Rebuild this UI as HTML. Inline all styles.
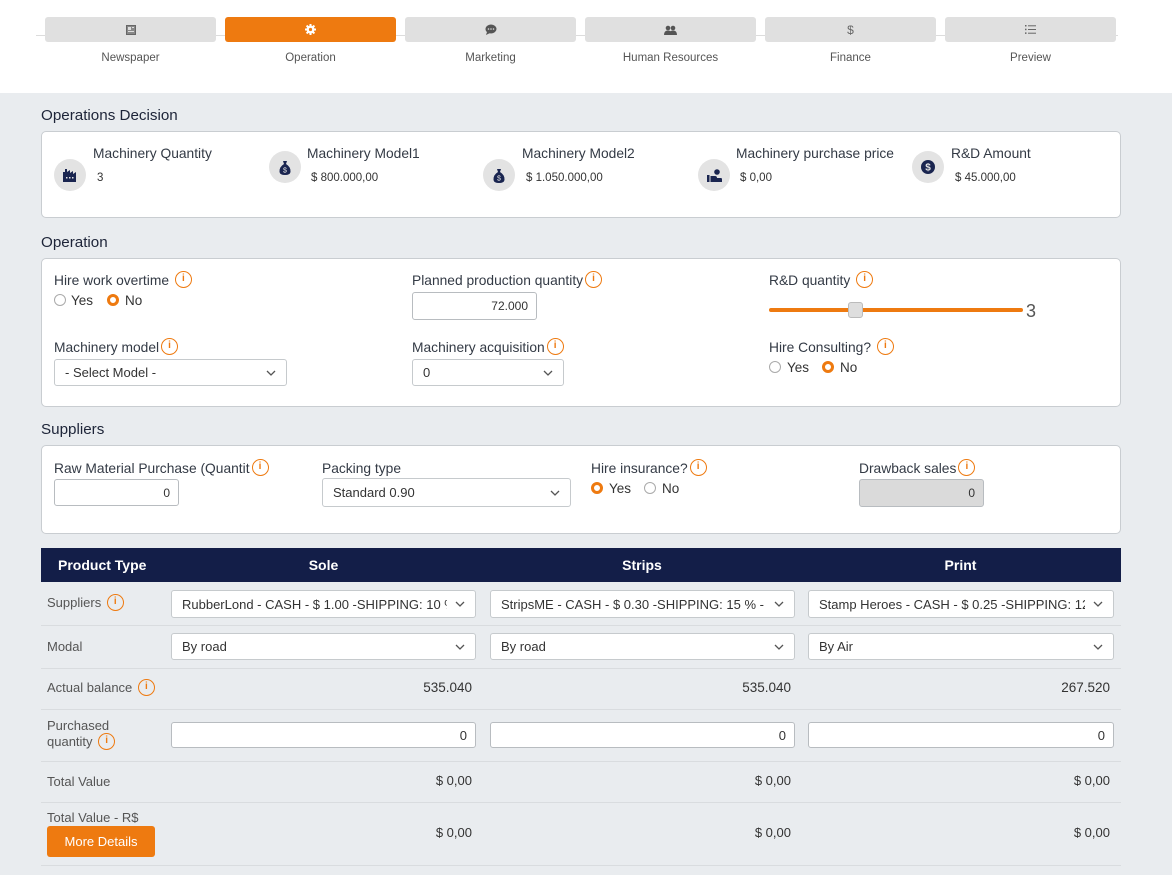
<!DOCTYPE html>
<html><head><meta charset="utf-8">
<style>
*{box-sizing:border-box;margin:0;padding:0}
body{width:1172px;height:875px;overflow:hidden;background:#e9ecef;font-family:"Liberation Sans",sans-serif;color:#333a45;position:relative}
.a{position:absolute;white-space:nowrap}
.top{position:absolute;left:0;top:0;width:1172px;height:93px;background:#fff}
.tab{position:absolute;top:17px;width:171px;height:25px;background:#e0e0e0;border-radius:3px;display:flex;align-items:center;justify-content:center;color:#666;font-size:11px}
.tab.on{background:#ee7a10;color:#fff}
.tl{position:absolute;top:50px;width:171px;text-align:center;font-size:11.5px;color:#555;line-height:14px}
.h{position:absolute;left:41px;font-size:15.2px;color:#1d2438;line-height:18px}
.card{position:absolute;left:41px;width:1080px;background:#fff;border:1px solid #c9cdd1;border-radius:5px}
.ic{position:absolute;width:32px;height:32px;border-radius:50%;background:#e3e3e3;display:flex;align-items:center;justify-content:center}
.lb{position:absolute;font-size:13.8px;line-height:16px;color:#333a45;white-space:nowrap}
.val{position:absolute;font-size:11.5px;line-height:14px;color:#333;white-space:nowrap}
.info{display:inline-block;width:17px;height:17px;border:1.5px solid #ee7a10;border-radius:50%;color:#ee7a10;font-size:10px;font-weight:bold;line-height:14px;text-align:center;vertical-align:middle;margin-left:2px;margin-top:-3px}
.inp{position:absolute;background:#fff;border:1px solid #b8bcc0;border-radius:3px;font-size:12px;color:#333;text-align:right;padding-right:8px;display:flex;align-items:center;justify-content:flex-end}
.sel{position:absolute;background:#fff;border:1px solid #c6cacd;border-radius:3px;font-size:13px;color:#333;padding-left:10px;display:flex;align-items:center;white-space:nowrap}
.sel span{display:block;overflow:hidden;white-space:nowrap}
.sel svg{position:absolute;right:10px;top:50%;margin-top:-3px}
.rad{position:absolute;width:12px;height:12px;border-radius:50%;border:1px solid #aaa;background:#fff}
.rad.on{border:3.5px solid #ee7a10;background:#fff}
.rt{position:absolute;font-size:13.5px;line-height:16px;color:#333}
.th{position:absolute;top:548px;left:41px;width:1080px;height:34px;background:#131e48}
.thx{position:absolute;top:557px;font-size:14px;font-weight:bold;color:#fff;line-height:17px}
.line{position:absolute;left:41px;width:1080px;height:1px;background:#d9dcdf}
.tlb{position:absolute;left:47px;font-size:13px;color:#555;line-height:16px;white-space:nowrap}
.num{position:absolute;font-size:13px;color:#333;line-height:16px;text-align:right;width:200px}
</style></head><body>
<div class="top"></div>
<div class="a" style="left:36px;top:35px;width:1082px;height:1px;background:#dcdcdc"></div>
<div class="tab" style="left:45px"><svg width="10" height="10"><rect x="0.5" y="0.5" width="9" height="9" fill="#888" stroke="#666"/><rect x="2" y="2" width="3" height="3" fill="#ddd"/><rect x="6" y="2" width="2" height="1" fill="#ddd"/><rect x="2" y="6" width="6" height="1" fill="#ddd"/></svg></div>
<div class="tab on" style="left:225px"><svg width="11" height="11"><circle cx="5.5" cy="5.5" r="4" fill="#fff"/><g stroke="#fff" stroke-width="2"><line x1="5.5" y1="0" x2="5.5" y2="11"/><line x1="0" y1="5.5" x2="11" y2="5.5"/><line x1="1.6" y1="1.6" x2="9.4" y2="9.4"/><line x1="9.4" y1="1.6" x2="1.6" y2="9.4"/></g><circle cx="5.5" cy="5.5" r="1.6" fill="#ee7a10"/></svg></div>
<div class="tab" style="left:405px"><svg width="12" height="11"><ellipse cx="6" cy="5" rx="5.5" ry="4.5" fill="#555"/><path d="M2 8 L1 11 L5 9z" fill="#555"/><circle cx="3.5" cy="5" r="0.8" fill="#ddd"/><circle cx="6" cy="5" r="0.8" fill="#ddd"/><circle cx="8.5" cy="5" r="0.8" fill="#ddd"/></svg></div>
<div class="tab" style="left:585px"><svg width="13" height="10"><circle cx="4" cy="3" r="2.3" fill="#555"/><circle cx="9" cy="3" r="2.3" fill="#555"/><path d="M0 10 Q0 5.5 4 5.5 Q8 5.5 8 10z" fill="#555"/><path d="M5 10 Q5 5.5 9 5.5 Q13 5.5 13 10z" fill="#555"/></svg></div>
<div class="tab" style="left:765px;font-size:12px">$</div>
<div class="tab" style="left:945px"><svg width="11" height="9"><g fill="#666"><rect x="0" y="0" width="1.5" height="1.5"/><rect x="0" y="3.7" width="1.5" height="1.5"/><rect x="0" y="7.4" width="1.5" height="1.5"/><rect x="3" y="0.3" width="8" height="1"/><rect x="3" y="4" width="8" height="1"/><rect x="3" y="7.7" width="8" height="1"/></g></svg></div>
<div class="tl" style="left:45px;top:51px">Newspaper</div>
<div class="tl" style="left:225px;top:51px">Operation</div>
<div class="tl" style="left:405px;top:51px">Marketing</div>
<div class="tl" style="left:585px;top:51px">Human Resources</div>
<div class="tl" style="left:765px;top:51px">Finance</div>
<div class="tl" style="left:945px;top:51px">Preview</div>

<div class="h" style="top:107px">Operations Decision</div>
<div class="card" style="top:131px;height:87px"></div>
<div class="ic" style="left:54px;top:159px"><svg width="16" height="14"><path d="M1 14 V4 H3 V1 H5 V4 L8 2 V5 L11 3 V6 L14 4 V14z" fill="#1a2550"/><g fill="#e3e3e3"><rect x="4" y="9" width="1.5" height="1.5"/><rect x="7" y="9" width="1.5" height="1.5"/><rect x="10" y="9" width="1.5" height="1.5"/></g></svg></div>
<div class="lb" style="left:93px;top:146px">Machinery Quantity</div>
<div class="val" style="left:97px;top:171px">3</div>
<div class="ic" style="left:269px;top:151px"><svg width="12" height="15"><path d="M4 1 H8 L7 4 Q12 7 11.5 12 Q11 15 6 15 Q1 15 0.5 12 Q0 7 5 4z" fill="#1a2550"/><text x="6" y="12.5" font-size="7" fill="#e3e3e3" text-anchor="middle" font-family="Liberation Sans">$</text></svg></div>
<div class="lb" style="left:307px;top:146px">Machinery Model1</div>
<div class="val" style="left:311px;top:171px">$ 800.000,00</div>
<div class="ic" style="left:483px;top:159px"><svg width="12" height="15"><path d="M4 1 H8 L7 4 Q12 7 11.5 12 Q11 15 6 15 Q1 15 0.5 12 Q0 7 5 4z" fill="#1a2550"/><text x="6" y="12.5" font-size="7" fill="#e3e3e3" text-anchor="middle" font-family="Liberation Sans">$</text></svg></div>
<div class="lb" style="left:522px;top:146px">Machinery Model2</div>
<div class="val" style="left:526px;top:171px">$ 1.050.000,00</div>
<div class="ic" style="left:698px;top:159px"><svg width="15" height="13"><rect x="0" y="6" width="2.5" height="7" fill="#1a2550"/><path d="M3.5 7 H8 Q10 7 10 9 H14 Q15 9 15 10.5 V13 H3.5z" fill="#1a2550"/><circle cx="10" cy="3" r="2.8" fill="#1a2550"/></svg></div>
<div class="lb" style="left:736px;top:146px">Machinery purchase price</div>
<div class="val" style="left:740px;top:171px">$ 0,00</div>
<div class="ic" style="left:912px;top:151px"><svg width="14" height="14"><circle cx="7" cy="7" r="7" fill="#1a2550"/><text x="7" y="10.5" font-size="10" font-weight="bold" fill="#e3e3e3" text-anchor="middle" font-family="Liberation Sans">$</text></svg></div>
<div class="lb" style="left:951px;top:146px">R&amp;D Amount</div>
<div class="val" style="left:955px;top:171px">$ 45.000,00</div>

<div class="h" style="top:234px">Operation</div>
<div class="card" style="top:258px;height:149px"></div>
<div class="lb" style="left:54px;top:273px">Hire work overtime <span class="info">i</span></div>
<div class="rad" style="left:54px;top:294px"></div><div class="rt" style="left:71px;top:293px">Yes</div>
<div class="rad on" style="left:107px;top:294px"></div><div class="rt" style="left:125px;top:293px">No</div>
<div class="lb" style="left:412px;top:273px">Planned production quantity<span class="info">i</span></div>
<div class="inp" style="left:412px;top:292px;width:125px;height:28px">72.000</div>
<div class="lb" style="left:769px;top:273px">R&amp;D quantity <span class="info">i</span></div>
<div class="a" style="left:769px;top:308px;width:254px;height:4px;background:#ee7a10;border-radius:2px"></div>
<div class="a" style="left:848px;top:302px;width:15px;height:16px;background:#dedede;border:1px solid #bbb;border-radius:3px"></div>
<div class="a" style="left:1026px;top:300px;font-size:18px;color:#555;line-height:22px">3</div>
<div class="lb" style="left:54px;top:340px">Machinery model<span class="info">i</span></div>
<div class="sel" style="left:54px;top:359px;width:233px;height:27px"><span>- Select Model -</span><svg width="10" height="6"><polyline points="1,1 5,5 9,1" fill="none" stroke="#555" stroke-width="1.3"/></svg></div>
<div class="lb" style="left:412px;top:340px">Machinery acquisition<span class="info">i</span></div>
<div class="sel" style="left:412px;top:359px;width:152px;height:27px"><span>0</span><svg width="10" height="6"><polyline points="1,1 5,5 9,1" fill="none" stroke="#555" stroke-width="1.3"/></svg></div>
<div class="lb" style="left:769px;top:340px">Hire Consulting? <span class="info">i</span></div>
<div class="rad" style="left:769px;top:361px"></div><div class="rt" style="left:787px;top:360px">Yes</div>
<div class="rad on" style="left:822px;top:361px"></div><div class="rt" style="left:840px;top:360px">No</div>

<div class="h" style="top:421px">Suppliers</div>
<div class="card" style="top:445px;height:89px"></div>
<div class="lb" style="left:54px;top:461px">Raw Material Purchase (Quantit<span class="info">i</span></div>
<div class="inp" style="left:54px;top:479px;width:125px;height:27px">0</div>
<div class="lb" style="left:322px;top:461px">Packing type</div>
<div class="sel" style="left:322px;top:478px;width:249px;height:29px"><span>Standard 0.90</span><svg width="10" height="6"><polyline points="1,1 5,5 9,1" fill="none" stroke="#555" stroke-width="1.3"/></svg></div>
<div class="lb" style="left:591px;top:461px">Hire insurance?<span class="info">i</span></div>
<div class="rad on" style="left:591px;top:482px"></div><div class="rt" style="left:609px;top:481px">Yes</div>
<div class="rad" style="left:644px;top:482px"></div><div class="rt" style="left:662px;top:481px">No</div>
<div class="lb" style="left:859px;top:461px">Drawback sales<span class="info">i</span></div>
<div class="inp" style="left:859px;top:479px;width:125px;height:28px;background:#dadada">0</div>

<div class="th"></div>
<div class="thx" style="left:58px">Product Type</div>
<div class="thx" style="left:164px;width:319px;text-align:center">Sole</div>
<div class="thx" style="left:483px;width:318px;text-align:center">Strips</div>
<div class="thx" style="left:801px;width:319px;text-align:center">Print</div>

<div class="tlb" style="top:595px">Suppliers <span class="info">i</span></div>
<div class="sel" style="left:171px;top:590px;width:305px;height:28px"><span style="width:265px">RubberLond - CASH - $ 1.00 -SHIPPING: 10 % - E</span><svg width="10" height="6"><polyline points="1,1 5,5 9,1" fill="none" stroke="#555" stroke-width="1.3"/></svg></div>
<div class="sel" style="left:490px;top:590px;width:305px;height:28px"><span style="width:264px">StripsME - CASH - $ 0.30 -SHIPPING: 15 % - E</span><svg width="10" height="6"><polyline points="1,1 5,5 9,1" fill="none" stroke="#555" stroke-width="1.3"/></svg></div>
<div class="sel" style="left:808px;top:590px;width:306px;height:28px"><span style="width:266px">Stamp Heroes - CASH - $ 0.25 -SHIPPING: 12 %</span><svg width="10" height="6"><polyline points="1,1 5,5 9,1" fill="none" stroke="#555" stroke-width="1.3"/></svg></div>
<div class="line" style="top:625px"></div>

<div class="tlb" style="top:639px">Modal</div>
<div class="sel" style="left:171px;top:633px;width:305px;height:27px"><span>By road</span><svg width="10" height="6"><polyline points="1,1 5,5 9,1" fill="none" stroke="#555" stroke-width="1.3"/></svg></div>
<div class="sel" style="left:490px;top:633px;width:305px;height:27px"><span>By road</span><svg width="10" height="6"><polyline points="1,1 5,5 9,1" fill="none" stroke="#555" stroke-width="1.3"/></svg></div>
<div class="sel" style="left:808px;top:633px;width:306px;height:27px"><span>By Air</span><svg width="10" height="6"><polyline points="1,1 5,5 9,1" fill="none" stroke="#555" stroke-width="1.3"/></svg></div>
<div class="line" style="top:668px"></div>

<div class="tlb" style="top:680px">Actual balance <span class="info">i</span></div>
<div class="num" style="left:272px;top:680px;font-size:13.5px">535.040</div>
<div class="num" style="left:591px;top:680px;font-size:13.5px">535.040</div>
<div class="num" style="left:910px;top:680px;font-size:13.5px">267.520</div>
<div class="line" style="top:709px"></div>

<div class="tlb" style="top:718px;line-height:16px">Purchased<br>quantity <span class="info">i</span></div>
<div class="inp" style="left:171px;top:722px;width:305px;height:26px;font-size:13px">0</div>
<div class="inp" style="left:490px;top:722px;width:305px;height:26px;font-size:13px">0</div>
<div class="inp" style="left:808px;top:722px;width:306px;height:26px;font-size:13px">0</div>
<div class="line" style="top:761px"></div>

<div class="tlb" style="top:774px">Total Value</div>
<div class="num" style="left:272px;top:773px">$ 0,00</div>
<div class="num" style="left:591px;top:773px">$ 0,00</div>
<div class="num" style="left:910px;top:773px">$ 0,00</div>
<div class="line" style="top:802px"></div>

<div class="tlb" style="top:810px">Total Value - R$</div>
<div class="a" style="left:47px;top:826px;width:108px;height:31px;background:#ee7a10;border-radius:3px;color:#fff;font-size:13px;display:flex;align-items:center;justify-content:center">More Details</div>
<div class="num" style="left:272px;top:825px">$ 0,00</div>
<div class="num" style="left:591px;top:825px">$ 0,00</div>
<div class="num" style="left:910px;top:825px">$ 0,00</div>
<div class="line" style="top:865px"></div>
</body></html>
